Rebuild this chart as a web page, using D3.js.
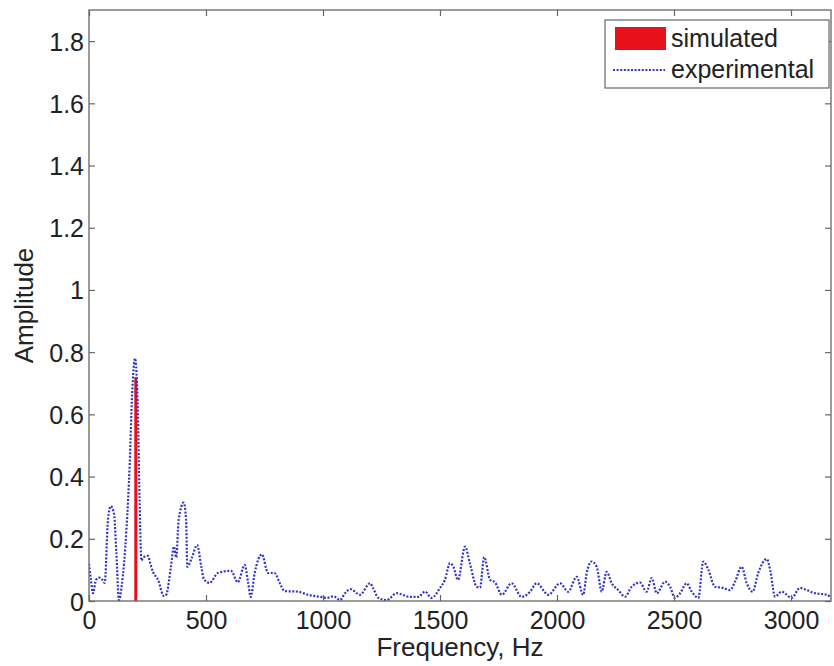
<!DOCTYPE html>
<html>
<head>
<meta charset="utf-8">
<script src="https://cdn.jsdelivr.net/npm/d3@7"></script>
<style>
  html, body { margin: 0; padding: 0; background: #fff; }
  text { font-family: "Liberation Sans", Arial, Helvetica, sans-serif; fill: #222; }
</style>
</head>
<body>
<svg id="chart" width="834" height="666"></svg>
<script>
// ---- data ----
const expFreq = [0,8,17,30,45,55,67,81,93,107,117,128,140,160,174,184,197,209,216,224,231,252,262,274,295,320,330,350,363,373,383,405,415,420,440,462,480,491,515,551,607,636,665,680,691,708,739,765,793,815,836,893,936,991,1016,1045,1073,1094,1118,1158,1201,1215,1236,1272,1315,1372,1407,1436,1464,1500,1521,1543,1557,1577,1607,1628,1657,1671,1689,1714,1735,1764,1806,1849,1885,1913,1963,2013,2048,2084,2112,2127,2148,2170,2191,2212,2234,2262,2291,2319,2355,2383,2405,2426,2462,2483,2504,2526,2554,2576,2604,2625,2647,2675,2711,2739,2761,2789,2811,2836,2860,2896,2911,2932,2960,3003,3038,3067,3103,3153,3180];
const expAmp = [0.12,0.07,0.025,0.068,0.075,0.07,0.058,0.26,0.305,0.28,0.155,0.003,0.05,0.23,0.44,0.66,0.78,0.6,0.335,0.13,0.14,0.145,0.12,0.093,0.068,0.016,0.02,0.11,0.175,0.14,0.26,0.316,0.26,0.11,0.14,0.18,0.11,0.07,0.058,0.09,0.097,0.06,0.116,0.06,0.013,0.09,0.15,0.09,0.09,0.058,0.032,0.03,0.02,0.013,0.01,0.015,0.003,0.025,0.038,0.02,0.057,0.04,0.01,0.003,0.025,0.013,0.013,0.03,0.01,0.042,0.068,0.122,0.11,0.068,0.175,0.12,0.046,0.043,0.141,0.068,0.06,0.02,0.057,0.013,0.03,0.057,0.02,0.057,0.03,0.078,0.02,0.09,0.127,0.11,0.03,0.094,0.057,0.035,0.014,0.046,0.059,0.03,0.074,0.025,0.062,0.046,0.01,0.025,0.057,0.03,0.01,0.127,0.1,0.046,0.042,0.035,0.062,0.11,0.057,0.03,0.09,0.135,0.1,0.014,0.03,0.01,0.042,0.035,0.025,0.02,0.003];
const simFreq = [200];
const simAmp = [0.72];
const xTicks = [0, 500, 1000, 1500, 2000, 2500, 3000];
const yTicks = [0, 0.2, 0.4, 0.6, 0.8, 1, 1.2, 1.4, 1.6, 1.8];
const xDomain = [0, 3171];
const yDomain = [0, 1.9];
const legendLabels = ["simulated", "experimental"];
const xLabel = "Frequency, Hz";
const yLabel = "Amplitude";

// ---- layout ----
const W = 834, H = 666;
const m = { left: 89, top: 10, right: 3, bottom: 65 };
const pw = W - m.left - m.right, ph = H - m.top - m.bottom;
const frameColor = "#666";
const fs = 25;

const svg = d3.select("#chart");
const g = svg.append("g").attr("transform", `translate(${m.left},${m.top})`);

const x = d3.scaleLinear().domain(xDomain).range([0, pw]);
const y = d3.scaleLinear().domain(yDomain).range([ph, 0]);

svg.append("defs").append("clipPath").attr("id", "clip")
  .append("rect").attr("x", 0).attr("y", 0).attr("width", pw).attr("height", ph);

const plot = g.append("g").attr("clip-path", "url(#clip)");

// simulated bar(s)
const simW = 13;
plot.selectAll("rect.sim").data(simFreq.map((f, i) => ({ f, a: simAmp[i] })))
  .enter().append("rect").attr("class", "sim")
  .attr("x", d => x(d.f - simW / 2))
  .attr("width", d => x(d.f + simW / 2) - x(d.f - simW / 2))
  .attr("y", d => y(d.a))
  .attr("height", d => y(0) - y(d.a))
  .attr("fill", "#e8101a");

// experimental dotted line
const expData = expFreq.map((f, i) => ({ f, a: expAmp[i] }));
const line = d3.line().x(d => x(d.f)).y(d => y(d.a)).curve(d3.curveMonotoneX);
plot.append("path").datum(expData)
  .attr("d", line)
  .attr("fill", "none")
  .attr("stroke", "#3434c4")
  .attr("stroke-width", 2.2)
  .attr("stroke-dasharray", "2,1.6");

// frame
g.append("rect").attr("x", 0).attr("y", 0).attr("width", pw).attr("height", ph)
  .attr("fill", "none").attr("stroke", frameColor).attr("stroke-width", 1.3);

// axes (MATLAB style inward ticks, mirrored)
const tl = 6;
const axB = g.append("g").attr("transform", `translate(0,${ph})`)
  .call(d3.axisBottom(x).tickValues(xTicks).tickSize(-tl).tickPadding(0).tickFormat(d3.format("d")));
const axT = g.append("g")
  .call(d3.axisTop(x).tickValues(xTicks).tickSize(-tl).tickFormat(""));
const axL = g.append("g")
  .call(d3.axisLeft(y).tickValues(yTicks).tickSize(-tl).tickPadding(0).tickFormat(d => d3.format("")(d)));
const axR = g.append("g").attr("transform", `translate(${pw},0)`)
  .call(d3.axisRight(y).tickValues(yTicks).tickSize(-tl).tickFormat(""));

[axB, axT, axL, axR].forEach(a => {
  a.select(".domain").remove();
  a.selectAll(".tick line").attr("stroke", frameColor).attr("stroke-width", 1.2);
  a.selectAll("text").style("font-size", fs + "px").attr("fill", "#222");
});
axB.selectAll(".tick text").attr("y", 10).attr("dy", "0.71em");
axL.selectAll(".tick text").attr("x", -5).attr("dy", "0.36em");

// axis labels
svg.append("text").attr("x", m.left + pw / 2).attr("y", 656)
  .attr("text-anchor", "middle").style("font-size", "26px").text(xLabel);
svg.append("text").attr("transform", `translate(33,${m.top + ph / 2}) rotate(-90)`)
  .attr("text-anchor", "middle").style("font-size", "26px").text(yLabel);

// legend
const lg = svg.append("g");
lg.append("rect").attr("x", 605).attr("y", 20).attr("width", 224).attr("height", 68)
  .attr("fill", "#fff").attr("stroke", frameColor).attr("stroke-width", 1.2);
lg.append("rect").attr("x", 615).attr("y", 27).attr("width", 51).attr("height", 23)
  .attr("fill", "#e8101a");
lg.append("line").attr("x1", 613).attr("x2", 665).attr("y1", 70).attr("y2", 70)
  .attr("stroke", "#3434c4").attr("stroke-width", 2.2).attr("stroke-dasharray", "2,1.6");
lg.append("text").attr("x", 671).attr("y", 47).style("font-size", "25px").text(legendLabels[0]);
lg.append("text").attr("x", 671).attr("y", 78).style("font-size", "25px").text(legendLabels[1]);
</script>
</body>
</html>
